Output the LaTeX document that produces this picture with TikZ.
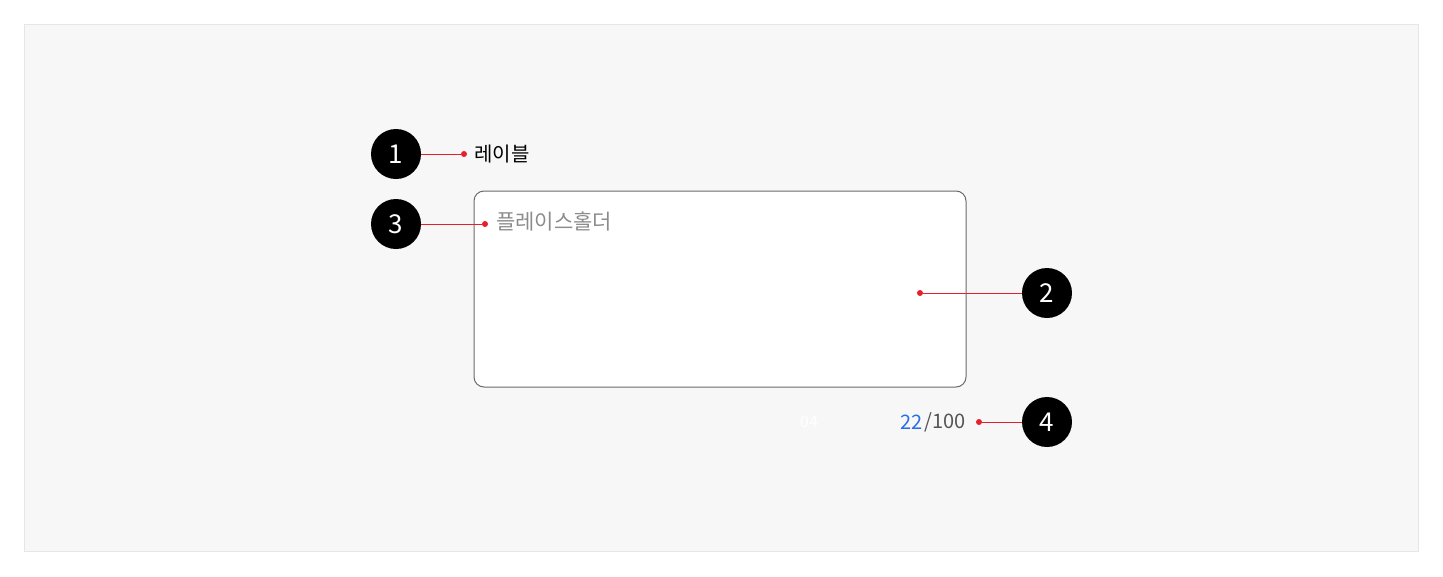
\documentclass[tikz,border=0pt]{standalone}
\usepackage{fontspec}
\setmainfont{Noto Sans CJK KR}
\usetikzlibrary{positioning}
\definecolor{panel}{HTML}{F7F7F7}
\definecolor{panelline}{HTML}{E6E6E6}
\definecolor{boxline}{HTML}{6B6B6B}
\definecolor{mark}{HTML}{E5202E}
\definecolor{hint}{HTML}{8C8C8C}
\definecolor{count}{HTML}{2B6FE8}
\definecolor{total}{HTML}{555555}

\begin{document}
\begin{tikzpicture}[
            x=1pt,y=-1pt,
            badge/.style={circle,fill=black,minimum size=50pt,inner sep=0pt,text=white,font=\fontsize{26}{26}\selectfont},
            dot/.style={circle,fill=mark,minimum size=6pt,inner sep=0pt},
            lead/.style={draw=mark,line width=1pt},
            txt/.style={inner sep=0pt,anchor=west}
          ]
          \useasboundingbox (0,0) rectangle (1443,576);
          \draw[panelline,fill=panel] (24.5,24.5) rectangle (1418.5,551.5);

          %text area
          \draw[boxline,fill=white,line width=1pt,rounded corners=10pt] (474,191) rectangle (966,387);
          \node[txt,font=\fontsize{20}{20}\selectfont] (label) at (474,154) {레이블};
          \node[txt,text=hint,font=\fontsize{21}{21}\selectfont] (hold) at (496,221) {플레이스홀더};
          \node[txt,text=white,font=\fontsize{16}{16}\selectfont] (zero) at (800,422) {04};
          \node[txt,text=total,font=\fontsize{20}{20}\selectfont,anchor=east] (max) at (966,422) {/100};
          \node[txt,text=count,font=\fontsize{20}{20}\selectfont,anchor=east,left=2pt of max] (cur) {22};

          %badges
          \node[badge] (b1) at (396,154) {1};
          \node[badge] (b3) at (396,224) {3};
          \node[badge] (b2) at (1047,293) {2};
          \node[badge] (b4) at (1047,422) {4};

          %markers
          \node[dot] (d1) at (464,154) {};
          \node[dot] (d3) at (485,224) {};
          \node[dot] (d2) at (920,293) {};
          \node[dot] (d4) at (979,422) {};
          \path[lead]
          (b1) -- (d1)
          (b3) -- (d3)
          (b2) -- (d2)
          (b4) -- (d4)
          ;
      \end{tikzpicture}
\end{document}
